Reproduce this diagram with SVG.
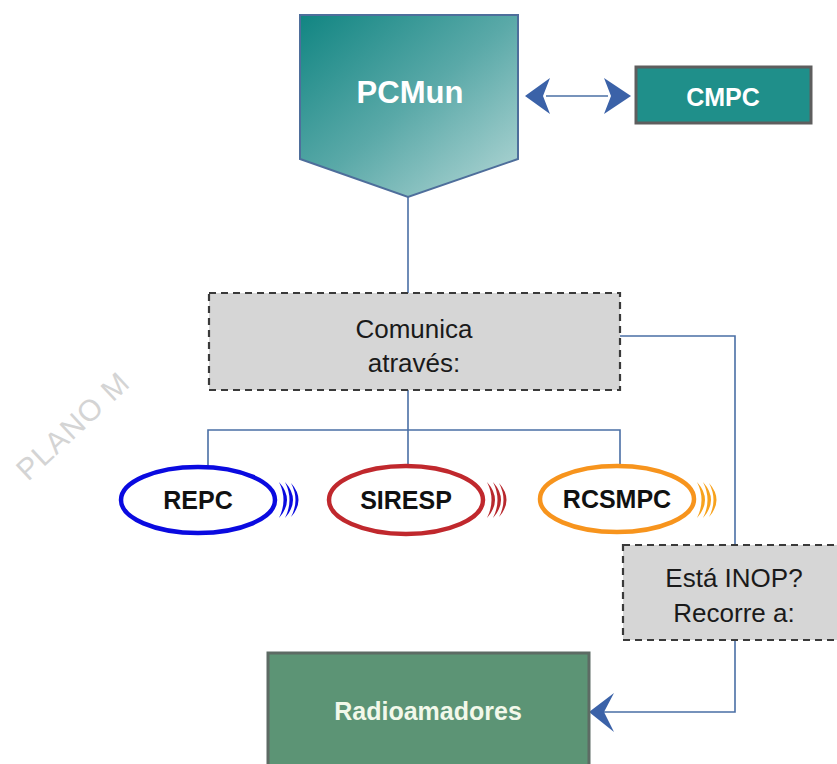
<svg xmlns="http://www.w3.org/2000/svg" width="837" height="764" viewBox="0 0 837 764">
<defs>
<linearGradient id="gPC" x1="0" y1="0" x2="1" y2="1">
<stop offset="0" stop-color="#118582"/>
<stop offset="0.5" stop-color="#5aa9a8"/>
<stop offset="1" stop-color="#b6d8d7"/>
</linearGradient>
<style>
.conn{fill:none;stroke:#4a6fa5;stroke-width:1.6}
.head{fill:#3b62a8}
.dash{fill:#d6d6d6;stroke:#3a3a3a;stroke-width:2.2;stroke-dasharray:7 5}
.txt{font-family:"Liberation Sans",Arial,sans-serif;text-anchor:middle}
.lbl{font-size:26px;fill:#1a1a1a}
.bw{font-weight:bold;fill:#ffffff}
.bk{font-weight:bold;fill:#111111;font-size:25px}
.ell{fill:#ffffff;stroke-width:4.5}
</style>
</defs>
<rect width="837" height="764" fill="#ffffff"/>
<text x="0" y="0" transform="translate(28,482) rotate(-43)" font-family="Liberation Sans,Arial,sans-serif" font-size="30" fill="#d4d4d4" letter-spacing="1">PLANO M</text>

<g id="connectors">
<line class="conn" x1="408" y1="197" x2="408" y2="293"/>
<polyline class="conn" points="408,390 408,430"/>
<polyline class="conn" points="208,467 208,430 620,430 620,467"/>
<line class="conn" x1="408" y1="430" x2="408" y2="465"/>
<polyline class="conn" points="620,336 735,336 735,545"/>
<polyline class="conn" points="735,640 735,712 600,712"/>
<line class="conn" x1="546" y1="96" x2="608" y2="96"/>
<path class="head" d="M525,96 L550,78 L543,96 L550,114 Z"/>
<path class="head" d="M631,96 L604,78 L611,96 L604,114 Z"/>
<path class="head" d="M589,712 L614,693 L604,712 L614,732 Z"/>
</g>

<g id="pcmun">
<path d="M300,15 L518,15 L518,159 L408,197 L300,159 Z" fill="url(#gPC)" stroke="#4e6e9b" stroke-width="2"/>
<text class="txt bw" x="410" y="103" font-size="31">PCMun</text>
</g>

<g id="cmpc">
<rect x="636" y="67" width="175" height="56" fill="#1f8f8a" stroke="#5e5e5e" stroke-width="3"/>
<text class="txt bw" x="723" y="106" font-size="25">CMPC</text>
</g>

<g id="comunica">
<rect class="dash" x="209" y="293" width="411" height="97"/>
<text class="txt lbl" x="414" y="338" font-size="28">Comunica</text>
<text class="txt lbl" x="414" y="372" font-size="28">através:</text>
</g>

<g id="repc">
<ellipse class="ell" cx="198" cy="500" rx="77" ry="33" stroke="#0a0ae0"/>
<text class="txt bk" x="198" y="509">REPC</text>
<g fill="#0a0ae0">
<path d="M279,482 Q295,500 279,518 Q288,500 279,482 Z"/>
<path d="M285,482 Q301,500 285,518 Q294,500 285,482 Z"/>
<path d="M291,483 Q306,500 291,517 Q300,500 291,483 Z"/>
</g>
</g>

<g id="siresp">
<ellipse class="ell" cx="406" cy="500" rx="77" ry="34" stroke="#c0282d"/>
<text class="txt bk" x="406" y="509">SIRESP</text>
<g fill="#b8282d">
<path d="M487,482 Q503,500 487,518 Q496,500 487,482 Z"/>
<path d="M493,482 Q509,500 493,518 Q502,500 493,482 Z"/>
<path d="M499,483 Q514,500 499,517 Q508,500 499,483 Z"/>
</g>
</g>

<g id="rcsmpc">
<ellipse class="ell" cx="617" cy="499" rx="77" ry="33" stroke="#f7941d"/>
<text class="txt bk" x="617" y="508">RCSMPC</text>
<g fill="#f7a21d">
<path d="M697,482 Q713,500 697,518 Q706,500 697,482 Z"/>
<path d="M703,482 Q719,500 703,518 Q712,500 703,482 Z"/>
<path d="M709,483 Q724,500 709,517 Q718,500 709,483 Z"/>
</g>
</g>

<g id="inop">
<rect class="dash" x="623" y="545" width="220" height="95"/>
<text class="txt lbl" x="734" y="587" font-size="26">Está INOP?</text>
<text class="txt lbl" x="734" y="622" font-size="26">Recorre a:</text>
</g>

<g id="radioamadores">
<rect x="268" y="653" width="321" height="120" fill="#5c9475" stroke="#5d6b64" stroke-width="3"/>
<text class="txt" x="428" y="720" font-size="25" font-weight="bold" fill="#f2f8ea">Radioamadores</text>
</g>
</svg>
